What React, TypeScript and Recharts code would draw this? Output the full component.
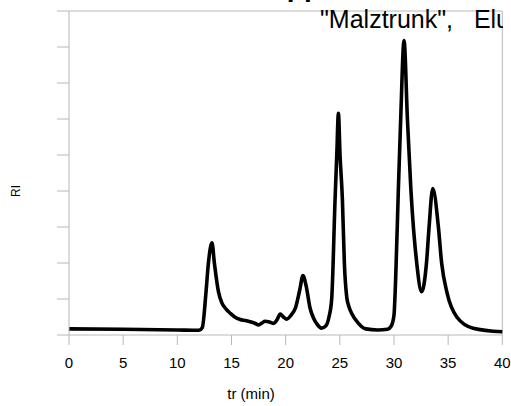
import { LineChart, Line, XAxis, YAxis, ReferenceLine } from "recharts";

// retention time (min) and RI signal
const times = [
  0, 5, 10, 12.0, 12.3, 12.65, 12.87, 13.2, 13.42, 13.8, 14.1, 14.5, 14.9, 15.3,
  15.8, 16.3, 16.8, 17.2, 17.5, 17.8, 18.1, 18.5, 18.9, 19.2, 19.5, 19.8, 20.1,
  20.5, 20.9, 21.3, 21.6, 21.9, 22.25, 22.6, 22.9, 23.3, 23.7, 24.0, 24.25,
  24.56, 24.72, 24.87, 25.02, 25.24, 25.42, 25.64, 25.85, 26.1, 26.7, 27.4,
  28.5, 29.4, 29.75, 30.0, 30.16, 30.4, 30.62, 30.93, 31.24, 31.55, 32.1,
  32.55, 33.0, 33.24, 33.58, 34.1, 34.4, 34.9, 35.8, 37.3, 40,
];
const signal = [
  0.17, 0.16, 0.14, 0.13, 0.2, 1.2, 2.0, 2.56, 2.0, 1.2, 0.9, 0.72, 0.6, 0.5,
  0.43, 0.4, 0.36, 0.32, 0.28, 0.33, 0.38, 0.36, 0.32, 0.42, 0.58, 0.5, 0.44,
  0.55, 0.75, 1.25, 1.65, 1.35, 0.75, 0.45, 0.3, 0.19, 0.25, 0.5, 1.0,
  3.75, 5.0, 6.16, 5.0, 3.75, 2.0, 1.05, 0.78, 0.6, 0.33, 0.17,
  0.14, 0.16, 0.25, 0.55, 1.6, 4.0, 6.0, 8.18, 6.0, 4.1, 2.0,
  1.2, 2.0, 3.0, 4.07, 3.0, 2.0, 1.17, 0.5, 0.19, 0.09,
];
const xTicks = [0, 5, 10, 15, 20, 25, 30, 35, 40];
const yTicks = [0, 1, 2, 3, 4, 5, 6, 7, 8, 9];

const data = times.map((t, i) => ({ t, ri: signal[i] }));

const axisGray = "#b8b8b8";
const font = "'Liberation Sans', Arial, sans-serif";

export default function App() {
  return (
    <div
      style={{
        position: "absolute",
        left: 0,
        top: 0,
        width: 511,
        height: 406,
        background: "#fff",
        fontFamily: font,
        overflow: "hidden",
      }}
    >
      <LineChart
        width={511}
        height={406}
        data={data}
        margin={{ top: 11, right: 8.7, left: 57, bottom: 0 }}
      >
        <XAxis
          dataKey="t"
          type="number"
          domain={[0, 40]}
          ticks={xTicks}
          interval={0}
          height={71}
          tickSize={10}
          tickMargin={12}
          stroke={axisGray}
          tick={{ fill: "#000", fontSize: 15, fontFamily: font }}
        />
        <YAxis
          type="number"
          domain={[0, 9]}
          ticks={yTicks}
          interval={0}
          width={12}
          tickSize={12}
          tickFormatter={() => ""}
          stroke={axisGray}
        />
        <ReferenceLine y={9} stroke={axisGray} />
        <ReferenceLine x={40} stroke={axisGray} />
        <Line
          dataKey="ri"
          type="monotone"
          stroke="#000"
          strokeWidth={3.6}
          dot={false}
          isAnimationActive={false}
        />
      </LineChart>

      {/* title, clipped at the right frame like the source */}
      <div
        style={{
          position: "absolute",
          left: 0,
          top: 0,
          width: 503,
          height: 40,
          overflow: "hidden",
          whiteSpace: "pre",
        }}
      >
        <div
          style={{
            position: "absolute",
            left: 237,
            top: -26.7,
            fontSize: 28,
            lineHeight: "28px",
            fontWeight: "bold",
          }}
        >
          Gruppen
        </div>
        <div
          style={{
            position: "absolute",
            left: 320,
            top: 7,
            fontSize: 25,
            lineHeight: "25px",
          }}
        >
          {'"Malztrunk",   Eluent: Wasser'}
        </div>
      </div>

      <div
        style={{
          position: "absolute",
          left: 251,
          top: 386,
          fontSize: 15,
          lineHeight: "16px",
          whiteSpace: "pre",
          transform: "translateX(-50%)",
        }}
      >
        tr (min)
      </div>
      <div
        style={{
          position: "absolute",
          left: 16,
          top: 191,
          fontSize: 12,
          lineHeight: "12px",
          transform: "translate(-50%, -50%) rotate(-90deg)",
        }}
      >
        RI
      </div>
    </div>
  );
}
